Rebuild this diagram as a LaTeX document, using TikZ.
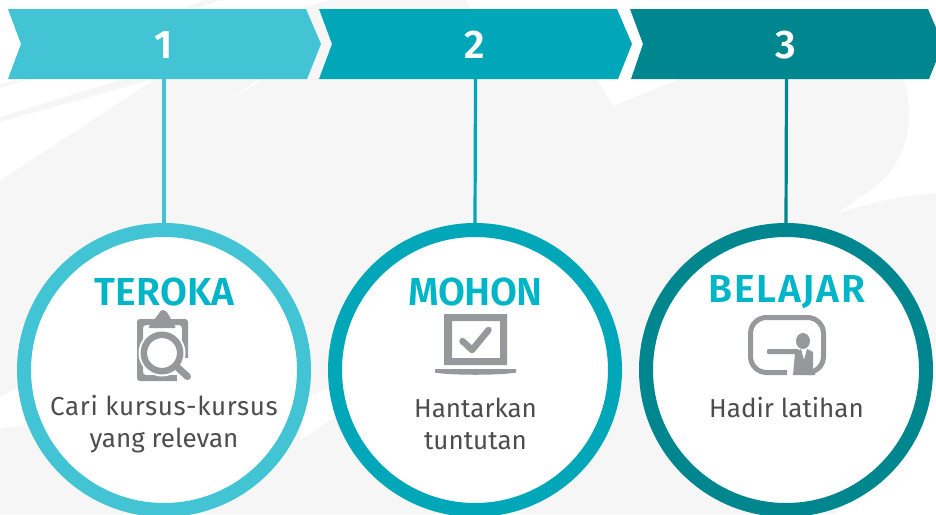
\documentclass[tikz,border=0pt]{standalone}
\usepackage{fontspec}
\setmainfont{Fira Sans}
\newfontfamily\headfont{Fira Sans SemiBold}[Numbers=Lining]
\definecolor{cA}{HTML}{42C4D4}
\definecolor{cB}{HTML}{00A7B8}
\definecolor{cC}{HTML}{00868F}
\definecolor{bgG}{HTML}{F6F6F6}
\definecolor{icG}{HTML}{97989B}
\definecolor{txG}{HTML}{4D4D4F}
\definecolor{ttl}{HTML}{00B5C8}
\tikzset{
  x=1pt,y=-1pt,
  numtxt/.style={text=white,font=\fontsize{40}{40}\selectfont\headfont,inner sep=0pt},
  ttltxt/.style={text=ttl,font=\fontsize{39}{39}\selectfont\headfont,inner sep=0pt},
  bodytxt/.style={text=txG,font=\fontsize{26}{32.5}\selectfont,align=center,inner sep=0pt},
  ringcirc/.style={circle,line width=14pt,fill=white,minimum size=280pt,inner sep=0pt},
  stem/.style={line width=3.2pt},
}
\begin{document}
\begin{tikzpicture}
\useasboundingbox (0,0) rectangle (936,514);
\clip (0,0) rectangle (936,514);
\fill[white] (0,0) rectangle (936,514);
% background swoosh
\fill[bgG] (0,181) -- (152,81) -- (240,25) -- (330,0) -- (466,0) -- (470,9) -- (597,79) -- (613,106) -- (680,79) -- (903,79)
  .. controls (912,108) and (912,135) .. (895,165) .. controls (880,188) and (860,195) .. (838,213)
  .. controls (870,203) and (905,195) .. (936,193) -- (936,345) -- (843,507) -- (835,514) -- (0,514) -- (0,428)
  -- (60,395) -- (120,360) -- (0,360) -- cycle;
\fill[bgG] (0,122) -- (150,80) -- (120,80) -- (0,117) -- cycle;
\fill[bgG] (0,88) -- (30,79) -- (0,84) -- cycle;
\fill[bgG] (180,9) -- (205,0) -- (220,0) -- (195,9) -- cycle;
\fill[bgG] (0,340) rectangle (60,397);
\fill[white] (0,397) -- (60,365) -- (100,420) -- (0,428) -- cycle;
\fill[white] (300,440) -- (335,417) -- (335,385) -- (305,398) -- cycle;
\fill[white] (258,79) -- (230,101) -- (262,79) -- cycle;
% chevrons
\fill[cA] (8,9) -- (306,9) -- (321,44) -- (307,79) -- (8,79) -- (21,44) -- cycle;
\fill[cB] (319,9) -- (617,9) -- (632,44) -- (618,79) -- (319,79) -- (332,44) -- cycle;
\fill[cC] (630,9) -- (928,9) -- (943,44) -- (929,79) -- (631,79) -- (643,44) -- cycle;
\node[numtxt] (n1) at (163.5,45) {1};
\node[numtxt] (n2) at (475,45) {2};
\node[numtxt] (n3) at (786,45) {3};
% circles
\coordinate (t1) at (164,79);
\coordinate (t2) at (475.5,79);
\coordinate (t3) at (786.5,79);
\node[ringcirc,draw=cA] (c1) at (164,370) {};
\node[ringcirc,draw=cB] (c2) at (475,370) {};
\node[ringcirc,draw=cC] (c3) at (786,370) {};
\draw[stem,cA] (t1) -- (c1.north);
\draw[stem,cB] (t2) -- (c2.north);
\draw[stem,cC] (t3) -- (c3.north);
% titles
\node[ttltxt] (h1) at (164.5,292) {\addfontfeatures{LetterSpace=0.5}TEROKA};
\node[ttltxt] (h2) at (475.5,292) {\addfontfeatures{LetterSpace=-1.5}MOHON};
\node[ttltxt] (h3) at (787,292) {\addfontfeatures{LetterSpace=4.5}BELAJAR};
% bodies
\node[bodytxt] (b1) at (164,424) {{\addfontfeatures{LetterSpace=2.4}Cari kursus-kursus}\\yang relevan};
\node[bodytxt] (b2) at (475.5,424) {Hantarkan\\tuntutan};
\node[bodytxt] (b3) at (786.5,408) {Hadir latihan};
% icon 1: clipboard and magnifier
\fill[icG,rounded corners=3pt,even odd rule] (137,319) rectangle (188,381) (143,325) rectangle (182,375);
\fill[white] (177,358) rectangle (192,383);
\fill[icG,rounded corners=1pt] (148,328) -- (160,312) -- (167,312) -- (176,328) -- cycle;
\fill[icG] (163,314) circle (4);
\fill[white] (162,353) circle (23.5);
\draw[icG,line width=6.5pt] (162,353) circle (18.2);
\draw[icG,line width=7pt,line cap=round] (176,366) -- (187.5,376.5);
% icon 2: laptop and tick
\fill[icG,even odd rule] (444,314) rectangle (507,365) (452,321) rectangle (500,358);
\fill[icG] (435,369) -- (516,369) -- (516,372.5) .. controls (500,375.5) and (450,375.5) .. (435,372.5) -- cycle;
\draw[icG,line width=6.5pt,line cap=round,line join=round] (462.5,341) -- (472,350) -- (488.5,330);
% icon 3: presenter and board
\draw[icG,line width=5pt,rounded corners=16pt] (787,372.5) -- (750.5,372.5) -- (750.5,317.5) -- (823.5,317.5) -- (823.5,372.5) -- (815,372.5);
\fill[icG,rounded corners=1pt] (767,349) -- (798,349) -- (802,353) -- (800,358) -- (795,354) -- (767,354) -- cycle;
\fill[icG] (803,341) ellipse (7 and 8);
\fill[icG] (793,375) -- (795,353) -- (801,349) -- (804,360) -- (807,349) -- (813,352) -- (813,375) -- cycle;
\end{tikzpicture}
\end{document}
